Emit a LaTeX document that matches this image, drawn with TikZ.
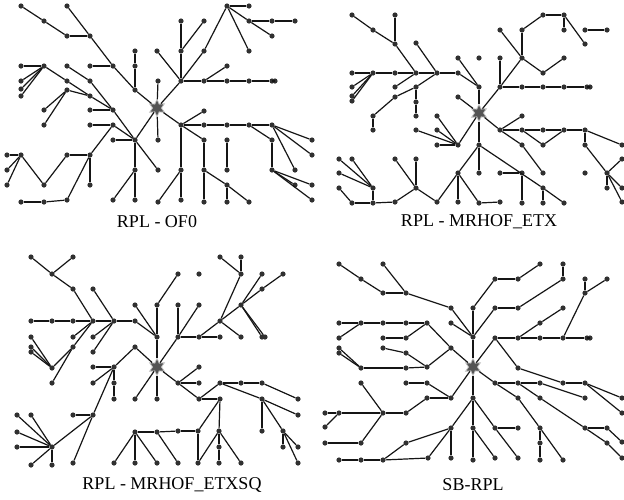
\documentclass[tikz,border=0pt]{standalone}
\usepackage{fontspec}
\setmainfont{Liberation Serif}
\usetikzlibrary{shapes.geometric}
\definecolor{motegray}{HTML}{303030}
\definecolor{sinkgray}{HTML}{555555}
\definecolor{linkblack}{HTML}{151515}
\tikzset{
  mote/.style={circle,fill=motegray,inner sep=0pt,minimum size=5.2pt},
  sink/.style={star,star points=6,star point ratio=1.9,fill=sinkgray,draw=sinkgray!35,
    line width=0.8pt,inner sep=0pt,minimum size=17pt},
  link/.style={line width=1.2pt,draw=linkblack},
  caption/.style={font=\fontsize{18}{20}\selectfont,inner sep=0pt}
}
\begin{document}
\begin{tikzpicture}[x=1pt,y=-1pt]
\useasboundingbox (0,0) rectangle (624,499);

% ---------------- RPL - OF0 ----------------
\node[sink] (s1) at (157,108) {};
\foreach \n/\x/\y in {a1/21/6, a2/44/21, a3/67/36, a4/90/36, a5/67/6, a6/113/66, a7/135/90,
  a8/135/51, a9/135/66, a10/90/66, a11/157/51, a12/158/81, a13/21/66, a14/44/66, a15/21/81,
  a16/21/89, a17/21/96, a18/67/81, a19/90/96, a20/113/110, a21/67/66, a22/90/81, a23/67/90,
  a24/44/110, a25/44/125, a26/90/110, a27/90/125, a28/113/125, a29/135/140, a30/113/140,
  a31/90/155, a32/67/155, a33/90/185, a34/67/200, a35/7/155, a36/21/155, a37/7/170, a38/7/185,
  a39/44/185, a40/21/202, a41/44/202, a42/135/170, a43/135/200, a44/113/200, a45/158/140,
  a46/158/170, a47/158/202, a48/227/6, a49/249/6, a50/249/21, a51/272/21, a52/295/21,
  a53/272/36, a54/249/51, a55/204/51, a56/181/81, a57/181/21, a58/181/51, a59/204/21,
  a60/204/81, a61/227/66, a62/227/81, a63/249/81, a64/272/81, a65/275/81, a66/181/125,
  a67/204/111, a68/204/125, a69/227/125, a70/249/125, a71/272/125, a72/272/140, a73/272/170,
  a74/295/170, a75/312/140, a76/312/155, a77/295/185, a78/312/185, a79/312/200, a80/204/140,
  a81/204/170, a82/204/202, a83/181/170, a84/181/200, a85/227/140, a86/227/170, a87/227/185,
  a88/249/202, a89/227/202}
  \node[mote] (\n) at (\x,\y) {};
\foreach \u/\v in {a1/a2, a2/a3, a3/a4, a5/a4, a4/a6, a6/a7, a7/s1, a8/a9, a9/a7, a10/a6,
  a13/a14, a15/a14, a16/a14, a17/a14, a14/a18, a18/a19, a19/a20, a21/a22, a22/a20, a23/a19,
  a24/a23, a25/a23, a26/a20, a20/a29, a27/a28, a28/a29, a30/a29, a29/s1, a31/a28, a32/a31,
  a33/a31, a34/a31, a36/a39, a39/a32, a35/a36, a37/a36, a38/a36, a40/a41, a41/a34, a42/a29,
  a43/a42, a44/a42, a46/a29, a45/s1, a12/s1, a11/a56, a47/a83, a49/a48, a50/a48, a51/a50,
  a52/a51, a53/a50, a54/a48, a48/a55, a55/a56, a57/a58, a58/a56, a59/a58, a56/s1, a60/a56,
  a61/a60, a62/a60, a63/a62, a64/a63, a65/a64, a66/s1, a67/a66, a68/a66, a69/a68, a70/a69,
  a71/a70, a72/a70, a73/a72, a74/a71, a75/a71, a76/a71, a77/a73, a78/a73, a79/a73, a80/a66,
  a81/a80, a82/a81, a87/a81, a88/a87, a89/a87, a83/a66, a84/a83, a85/a86}
  \draw[link] (\u) -- (\v);
\node[caption] (t1) at (157,222) {RPL - OF0};

% ---------------- RPL - MRHOF_ETX ----------------
\node[sink] (s2) at (479,113) {};
\foreach \n/\x/\y in {b1/352/15, b2/373/30, b3/395/44, b4/395/15, b5/416/73, b6/352/73,
  b7/373/73, b8/395/73, b9/437/73, b10/458/73, b11/352/87, b12/352/96, b13/352/101,
  b14/416/43, b15/395/87, b16/416/87, b17/395/97, b18/416/102, b19/416/116, b20/373/116,
  b21/373/130, b22/458/58, b23/479/87, b24/479/58, b25/500/58, b26/500/87, b27/458/97,
  b28/437/116, b29/437/130, b30/437/145, b31/458/145, b32/416/130, b33/479/145, b34/479/173,
  b35/458/173, b36/500/130, b37/500/173, b38/437/202, b39/458/202, b40/416/159, b41/416/188,
  b42/395/159, b43/395/202, b44/339/159, b45/352/159, b46/339/173, b47/373/188, b48/339/188,
  b49/352/203, b50/373/203, b51/543/15, b52/564/15, b53/564/30, b54/585/44, b55/585/30,
  b56/607/30, b57/522/30, b58/522/58, b59/500/30, b60/543/73, b61/564/58, b63/522/87,
  b64/543/87, b65/564/87, b66/587/87, b67/590/87, b68/522/116, b69/522/130, b70/543/130,
  b71/564/130, b72/585/130, b73/543/145, b74/585/145, b75/607/173, b76/622/145, b77/622/159,
  b78/607/188, b79/622/188, b80/622/202, b81/522/145, b82/543/173, b83/543/188, b84/564/203,
  b85/543/203, b87/522/173, b88/522/203, b89/585/173, b90/479/203, b91/500/202}
  \node[mote] (\n) at (\x,\y) {};
\foreach \u/\v in {b1/b2, b2/b3, b4/b3, b3/b5, b6/b7, b7/b8, b8/b5, b5/b9, b9/b10, b10/b23,
  b11/b7, b12/b7, b13/b7, b14/b9, b15/b5, b16/b9, b17/b16, b18/b16, b19/b18, b20/b17, b21/b20,
  b22/b23, b23/s2, b25/b26, b26/s2, b27/s2, b28/b31, b29/b31, b30/b31, b32/b31, b31/s2,
  b33/s2, b34/b33, b35/b33, b38/b35, b39/b35, b90/b35, b91/b90, b41/b38, b40/b41, b42/b41,
  b43/b41, b44/b47, b45/b47, b46/b47, b47/b50, b48/b49, b49/b50, b50/b43, b52/b51, b53/b52,
  b54/b52, b56/b55, b57/b51, b58/b57, b59/b58, b60/b58, b61/b60, b58/b26, b63/b26, b64/b63,
  b65/b64, b66/b65, b67/b66, b36/s2, b68/b36, b69/b36, b70/b69, b71/b70, b72/b71, b73/b69,
  b71/b73, b74/b72, b75/b74, b76/b72, b77/b75, b78/b75, b79/b75, b80/b75, b81/b36, b82/b81,
  b83/b33, b84/b83, b85/b83, b87/b37, b88/b87}
  \draw[link] (\u) -- (\v);
\node[caption] (t2) at (479,222) {RPL - MRHOF\_ETX};

% ---------------- RPL - MRHOF_ETXSQ ----------------
\node[sink] (s3) at (157,367) {};
\foreach \n/\x/\y in {c1/31/257, c2/52/274, c3/73/257, c4/73/289, c5/93/321, c6/93/289,
  c7/114/321, c8/31/321, c9/52/321, c10/73/321, c11/135/321, c12/135/305, c13/157/305,
  c14/157/337, c15/73/337, c16/93/337, c17/93/352, c18/31/337, c19/31/347, c20/31/352,
  c21/52/368, c22/73/347, c23/52/383, c24/135/347, c25/114/367, c26/93/367, c27/93/383,
  c28/114/383, c29/114/399, c30/93/415, c31/135/399, c32/157/399, c33/73/415, c34/52/447,
  c35/73/463, c36/17/415, c37/31/415, c38/17/432, c39/17/447, c40/31/465, c41/52/465,
  c42/135/432, c43/114/463, c44/135/463, c45/157/463, c46/157/432, c47/220/257, c48/241/257,
  c49/241/274, c50/220/321, c51/178/274, c52/199/274, c53/262/274, c54/283/274, c55/262/289,
  c56/241/305, c57/262/337, c58/265/337, c59/199/337, c60/178/337, c61/178/305, c62/199/305,
  c63/241/337, c64/220/337, c65/178/383, c66/199/367, c67/199/383, c68/199/399, c69/220/399,
  c70/220/383, c71/241/383, c72/262/383, c73/298/399, c74/262/399, c75/298/415, c76/262/431,
  c77/283/431, c78/283/447, c79/298/447, c80/298/463, c81/198/431, c82/219/431, c83/198/463,
  c84/219/447, c85/219/463, c86/241/463, c87/178/431, c88/178/463}
  \node[mote] (\n) at (\x,\y) {};
\foreach \u/\v in {c1/c2, c3/c2, c2/c4, c4/c5, c6/c7, c8/c9, c9/c10, c10/c5, c5/c7, c7/c11,
  c11/c14, c12/c14, c13/c14, c14/s3, c15/c5, c16/c7, c17/c7, c18/c21, c19/c21, c20/c21,
  c21/c22, c22/c5, c23/c22, c24/s3, c25/c24, c26/c25, c27/c25, c28/c25, c29/c28, c30/c25,
  c33/c30, c34/c30, c35/c30, c36/c34, c37/c34, c38/c34, c39/c34, c40/c34, c41/c34, c31/s3,
  c32/s3, c43/c42, c44/c42, c45/c42, c42/c46, c46/c87, c88/c46, c87/c81, c81/c69, c83/c81,
  c47/c49, c48/c49, c49/c50, c51/c13, c53/c56, c54/c55, c55/c56, c56/c50, c57/c56, c58/c56,
  c50/c59, c59/c60, c64/c59, c63/c50, c61/c60, c62/c60, c60/s3, c65/s3, c66/c65, c67/c65,
  c68/c65, c69/c68, c70/c68, c71/c70, c72/c71, c73/c72, c74/c70, c75/c74, c76/c74, c77/c74,
  c78/c77, c79/c77, c80/c77, c82/c69, c84/c82, c85/c84, c83/c82, c86/c82}
  \draw[link] (\u) -- (\v);
\node[caption] (t3) at (172,485) {RPL - MRHOF\_ETXSQ};

% ---------------- SB-RPL ----------------
\node[sink] (s4) at (473,367) {};
\foreach \n/\x/\y in {d1/339/264, d2/361/279, d3/383/293, d4/406/293, d5/383/264,
  d6/451/308, d7/451/323, d8/339/323, d9/361/323, d10/383/323, d11/406/323, d12/427/323,
  d13/339/338, d14/451/348, d15/383/338, d16/406/338, d17/383/348, d18/406/353, d19/427/367,
  d20/339/348, d21/339/353, d22/361/368, d23/406/368, d24/406/383, d25/427/383, d26/451/398,
  d27/427/398, d28/406/413, d29/383/413, d30/339/413, d31/325/413, d32/361/383, d33/361/443,
  d34/325/443, d35/325/427, d36/451/428, d37/406/443, d38/383/460, d39/428/458, d40/451/458,
  d41/339/460, d42/361/460, d43/540/264, d44/518/279, d45/495/279, d46/473/308, d47/473/337,
  d48/563/264, d49/563/279, d50/518/308, d51/495/308, d52/495/338, d53/518/338, d54/540/338,
  d55/563/338, d56/587/338, d57/590/338, d58/540/323, d59/563/308, d60/585/293, d61/585/279,
  d62/607/279, d63/518/368, d64/563/383, d65/585/383, d66/622/398, d67/622/413, d68/495/383,
  d69/518/383, d70/540/383, d71/585/398, d72/518/398, d73/540/428, d74/540/443, d75/540/460,
  d76/563/460, d77/540/398, d78/585/428, d79/607/428, d80/622/442, d81/607/443, d82/622/458,
  d83/473/398, d84/473/428, d85/473/460, d86/495/428, d87/518/428, d88/518/458, d89/495/458}
  \node[mote] (\n) at (\x,\y) {};
\foreach \u/\v in {d1/d2, d2/d3, d3/d4, d5/d4, d4/d6, d6/d47, d7/d47, d8/d9, d9/d10,
  d10/d11, d11/d12, d13/d9, d12/d14, d14/s4, d15/d16, d16/d12, d17/d18, d18/d19, d19/d14,
  d20/d22, d21/d22, d22/d23, d23/d19, d24/d25, d25/d26, d27/d26, d26/s4, d28/d27, d29/d28,
  d32/d29, d30/d29, d31/d30, d35/d30, d33/d29, d34/d33, d36/d83, d37/d36, d38/d37, d39/d36,
  d40/d36, d41/d42, d42/d38, d38/d39, d43/d44, d44/d45, d45/d46, d46/d47, d47/s4, d48/d49,
  d49/d50, d50/d51, d51/d47, d52/s4, d53/d52, d54/d53, d55/d54, d56/d55, d57/d56, d58/d53,
  d59/d58, d60/d55, d61/d60, d62/d60, d63/d52, d64/d63, d65/d64, d66/d65, d67/d65, d68/s4,
  d69/d68, d70/d69, d71/d70, d72/d68, d73/d72, d74/d73, d75/d74, d76/d73, d77/d69, d78/d77,
  d79/d78, d80/d79, d81/d78, d82/d81, d83/s4, d84/d83, d85/d84, d86/d83, d87/d86, d88/d86,
  d89/d84}
  \draw[link] (\u) -- (\v);
\node[caption] (t4) at (473,485) {SB-RPL};
\end{tikzpicture}
\end{document}
